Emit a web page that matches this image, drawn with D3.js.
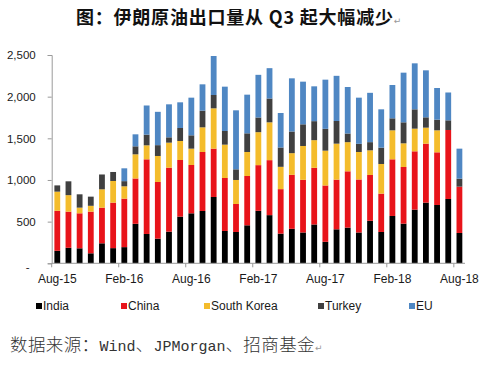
<!DOCTYPE html>
<html>
<head>
<meta charset="utf-8">
<script src="https://cdn.jsdelivr.net/npm/d3@7"></script>
<style>
  html, body { margin: 0; padding: 0; background: #fff; }
  svg { display: block; }
</style>
</head>
<body>
<svg id="chart" width="488" height="371"></svg>
<script>
// ---------------- data ----------------
const months = ["Aug-15","Sep-15","Oct-15","Nov-15","Dec-15","Jan-16","Feb-16","Mar-16","Apr-16","May-16",
  "Jun-16","Jul-16","Aug-16","Sep-16","Oct-16","Nov-16","Dec-16","Jan-17","Feb-17","Mar-17",
  "Apr-17","May-17","Jun-17","Jul-17","Aug-17","Sep-17","Oct-17","Nov-17","Dec-17","Jan-18",
  "Feb-18","Mar-18","Apr-18","May-18","Jun-18","Jul-18","Aug-18"];
const seriesNames = ["India", "China", "South Korea", "Turkey", "EU"];
const india      = [150,186,180,120,240,182,194,474,352,296,380,560,600,628,796,388,376,456,630,578,356,414,370,466,258,408,428,370,510,376,568,476,644,728,700,772,364];
const china      = [480,434,420,500,428,546,582,544,896,680,768,680,580,708,580,636,336,592,548,660,534,648,632,680,676,596,676,636,550,460,680,680,700,708,632,828,556];
const southKorea = [230,198, 68, 70,220,260,148,290,168,312,300,228,196,296,484,400,288,288,396,454,268,260,406,332,418,432,350,330,296,356,348,284,272,192,264,  0,  0];
const turkey     = [ 75,166,160,110,178,108, 62, 96,128,130, 64,156,160,200,160,164,128,224,176,286,232,260,260,228,262,272,104, 98, 98,196,144,252,232,124,128,116, 96];
const eu         = [  0,  0,  0,  0,  0,  0,154,144,350,400,396,308,452,316,468,532,708,464,512,364,414,638,512,418,590,542,558,554,592,460,400,596,552,564,380,334,360];
const yTicks = [0, 500, 1000, 1500, 2000, 2500];
const xTickLabels = ["Aug-15","Feb-16","Aug-16","Feb-17","Aug-17","Feb-18","Aug-18"];
const colors = ["#000000", "#e8141a", "#f4bc2c", "#404040", "#4f87c3"];
const titleText = "图：伊朗原油出口量从 Q3 起大幅减少";
const sourceParts = [["数据来源：","cjk"],["Wind","mono"],["、","cjk"],["JPMorgan","mono"],["、招商基金","cjk"]];

// ---------------- layout ----------------
const svg = d3.select("#chart");
const plotLeft = 51.7, plotRight = 465, plotTop = 55, plotBottom = 263.3;

const rows = months.map((m, i) => ({
  month: m, "India": india[i], "China": china[i], "South Korea": southKorea[i], "Turkey": turkey[i], "EU": eu[i]
}));
const stack = d3.stack().keys(seriesNames)(rows);

const x = d3.scaleBand().domain(months).range([plotLeft, plotRight]).paddingInner(0.48).paddingOuter(0.24);
const y = d3.scaleLinear().domain([0, 2500]).range([plotBottom, plotTop]);
const color = d3.scaleOrdinal().domain(seriesNames).range(colors);

// bars
svg.append("g").selectAll("g").data(stack).join("g")
  .attr("fill", d => color(d.key))
  .selectAll("rect").data(d => d).join("rect")
  .attr("x", d => x(d.data.month))
  .attr("width", x.bandwidth())
  .attr("y", d => y(d[1]))
  .attr("height", d => Math.max(0, y(d[0]) - y(d[1])));

// y axis
const yAxis = svg.append("g")
  .attr("transform", `translate(${plotLeft},0)`)
  .call(d3.axisLeft(y).tickValues(yTicks).tickSize(4).tickPadding(12)
    .tickFormat(v => v === 0 ? "-" : d3.format(",")(v)));
yAxis.select(".domain").attr("stroke", "#9a9a9a");
yAxis.selectAll(".tick line").attr("stroke", "#9a9a9a");
yAxis.selectAll(".tick text")
  .attr("font-family", "Liberation Sans, Arial, sans-serif")
  .attr("font-size", 11.5)
  .attr("fill", "#1a1a1a");
yAxis.selectAll(".tick").filter(d => d === 0).select("text")
  .attr("dx", -6).attr("dy", "0.6em");

// x axis: labels at category centers of every 6th month, ticks at category boundaries
const step = x.step();
const labelMonths = months.filter(m => xTickLabels.includes(m));
const xAxis = svg.append("g")
  .attr("transform", `translate(0,${plotBottom})`)
  .call(d3.axisBottom(x).tickValues(labelMonths).tickSize(0).tickPadding(11));
xAxis.select(".domain").attr("stroke", "#9a9a9a")
  .attr("d", `M${plotLeft},0H${plotRight}`);
xAxis.selectAll(".tick text")
  .attr("font-family", "Liberation Sans, Arial, sans-serif")
  .attr("font-size", 12)
  .attr("fill", "#1a1a1a");
xAxis.selectAll(".boundary").data(labelMonths).join("line")
  .attr("class", "boundary")
  .attr("x1", m => x(m) + x.bandwidth() / 2 - step / 2)
  .attr("x2", m => x(m) + x.bandwidth() / 2 - step / 2)
  .attr("y1", 0).attr("y2", 4)
  .attr("stroke", "#9a9a9a");

// legend
const legendX = [36, 121, 204, 318, 409];
const legend = svg.append("g").attr("transform", "translate(0,306)");
const li = legend.selectAll("g").data(seriesNames).join("g")
  .attr("transform", (d, i) => `translate(${legendX[i]},0)`);
li.append("rect").attr("x", 0).attr("y", -3).attr("width", 6).attr("height", 6)
  .attr("fill", d => color(d));
li.append("text").attr("x", 7).attr("y", 0).attr("dy", "0.36em")
  .attr("font-family", "Liberation Sans, Arial, sans-serif")
  .attr("font-size", 12).attr("fill", "#1a1a1a")
  .text(d => d);

// title
const title = svg.append("text")
  .attr("x", 239).attr("y", 18).attr("dy", "0.36em")
  .attr("text-anchor", "middle")
  .attr("letter-spacing", 0.8)
  .attr("font-family", "Noto Sans CJK SC, sans-serif")
  .attr("font-weight", 700).attr("font-size", 18).attr("fill", "#111");
title.append("tspan").text(titleText);
title.append("tspan").attr("font-size", 9).attr("font-weight", 400).attr("fill", "#999")
  .attr("font-family", "DejaVu Sans, sans-serif").text("↵");

// source
const src = svg.append("text")
  .attr("x", 10).attr("y", 345).attr("dy", "0.36em")
  .attr("font-size", 18).attr("fill", "#333");
src.selectAll("tspan").data(sourceParts).join("tspan")
  .attr("font-family", d => d[1] === "cjk" ? "Noto Sans CJK SC, sans-serif" : "Liberation Mono, monospace")
  .attr("font-size", d => d[1] === "cjk" ? 17.5 : 15)
  .attr("font-weight", d => d[1] === "cjk" ? 300 : 400)
  .attr("letter-spacing", d => d[1] === "cjk" ? 0.4 : 0)
  .text(d => d[0]);
src.append("tspan").attr("font-size", 9).attr("fill", "#999")
  .attr("font-family", "DejaVu Sans, sans-serif").text("↵");
</script>
</body>
</html>
